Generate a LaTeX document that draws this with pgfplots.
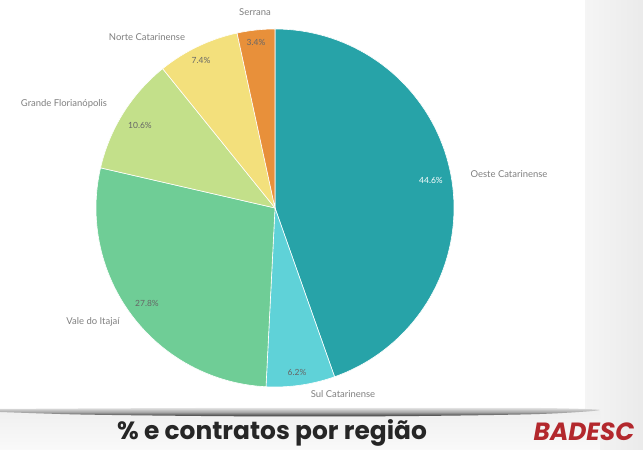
\documentclass[border=0pt]{standalone}
\usepackage{pgfplots}
\pgfplotsset{compat=1.18}
\usepackage{fontspec}
\setmainfont{Lato}
\newfontfamily\titlefont{Poppins}
\definecolor{cOeste}{HTML}{27A3A8}
\definecolor{cSul}{HTML}{5FD2D8}
\definecolor{cVale}{HTML}{6FCD96}
\definecolor{cGrande}{HTML}{C3E08A}
\definecolor{cNorte}{HTML}{F3E07C}
\definecolor{cSerrana}{HTML}{E8903A}
\definecolor{lbl}{HTML}{808080}
\definecolor{badesc}{HTML}{B3282D}
% data (percent)
\def\vOeste{44.6}
\def\vSul{6.2}
\def\vVale{27.8}
\def\vGrande{10.6}
\def\vNorte{7.4}
\def\vSerrana{3.4}
\pgfmathsetmacro\aA{90}
\pgfmathsetmacro\aB{\aA-3.6*\vOeste}
\pgfmathsetmacro\aC{\aB-3.6*\vSul}
\pgfmathsetmacro\aD{\aC-3.6*\vVale}
\pgfmathsetmacro\aE{\aD-3.6*\vGrande}
\pgfmathsetmacro\aF{\aE-3.6*\vNorte}
\pgfmathsetmacro\aG{\aF-3.6*\vSerrana}
\def\cx{275}\def\cy{242}\def\R{179}
\begin{document}
\begin{tikzpicture}
\begin{axis}[
  width=643bp, height=450bp, scale only axis,
  xmin=0, xmax=643, ymin=0, ymax=450,
  hide axis, clip=false,
]
% background
\addplot[draw=none, fill=white] coordinates {(0,0) (643,0) (643,450) (0,450)} -- cycle;
\addplot[draw=none, left color=gray!8, right color=gray!16] coordinates {(585,0) (643,0) (643,450) (585,450)} -- cycle;
\addplot[draw=none, top color=gray!12, bottom color=gray!4] coordinates {(0,0) (600,0) (600,38) (0,38)} -- cycle;
% shadow band
\addplot[draw=none, top color=gray!20, bottom color=black!80, middle color=gray!70, smooth] coordinates {(0,38) (80,35.5) (200,34) (300,33.5) (420,34) (540,36) (600,40) (540,42) (420,42) (300,42) (200,42) (80,41.5) (0,41)} -- cycle;
% pie slices
\addplot[fill=cOeste, draw=white, line width=0.6pt, domain=\aB:\aA, samples=80] ({\cx+\R*cos(x)},{\cy+\R*sin(x)}) -- (axis cs:\cx,\cy) -- cycle;
\addplot[fill=cSul, draw=white, line width=0.6pt, domain=\aC:\aB, samples=20] ({\cx+\R*cos(x)},{\cy+\R*sin(x)}) -- (axis cs:\cx,\cy) -- cycle;
\addplot[fill=cVale, draw=white, line width=0.6pt, domain=\aD:\aC, samples=60] ({\cx+\R*cos(x)},{\cy+\R*sin(x)}) -- (axis cs:\cx,\cy) -- cycle;
\addplot[fill=cGrande, draw=white, line width=0.6pt, domain=\aE:\aD, samples=30] ({\cx+\R*cos(x)},{\cy+\R*sin(x)}) -- (axis cs:\cx,\cy) -- cycle;
\addplot[fill=cNorte, draw=white, line width=0.6pt, domain=\aF:\aE, samples=20] ({\cx+\R*cos(x)},{\cy+\R*sin(x)}) -- (axis cs:\cx,\cy) -- cycle;
\addplot[fill=cSerrana, draw=white, line width=0.6pt, domain=\aG:\aF, samples=10] ({\cx+\R*cos(x)},{\cy+\R*sin(x)}) -- (axis cs:\cx,\cy) -- cycle;
% labels
\tikzset{lab/.style={font=\fontsize{9.5}{11}\selectfont, text=lbl, inner sep=0pt}}
\node[lab] at (axis cs:255,438) {Serrana};
\node[lab] at (axis cs:147,413) {Norte Catarinense};
\node[lab] at (axis cs:64,346) {Grande Florianópolis};
\node[lab] at (axis cs:509,276) {Oeste Catarinense};
\node[lab] at (axis cs:93,128) {Vale do Itajaí};
\node[lab] at (axis cs:343,56) {Sul Catarinense};
\tikzset{pct/.style={font=\fontsize{8.5}{10}\selectfont, text=black!60, inner sep=0pt}}
\node[pct] at (axis cs:256,408) {3.4\%};
\node[pct] at (axis cs:201,390) {7.4\%};
\node[pct] at (axis cs:140,325) {10.6\%};
\node[pct, text=white] at (axis cs:431,270) {44.6\%};
\node[pct] at (axis cs:147,147) {27.8\%};
\node[pct] at (axis cs:297,78) {6.2\%};
% title
\node[font=\titlefont\fontsize{25}{30}\selectfont\bfseries, text=black!85, inner sep=0pt] at (axis cs:272,17) {\% e contratos por região};
\node[font=\titlefont\fontsize{25}{30}\selectfont\bfseries\itshape, text=badesc, inner sep=0pt] at (axis cs:584,18) {BADESC};
\end{axis}
\end{tikzpicture}
\end{document}
